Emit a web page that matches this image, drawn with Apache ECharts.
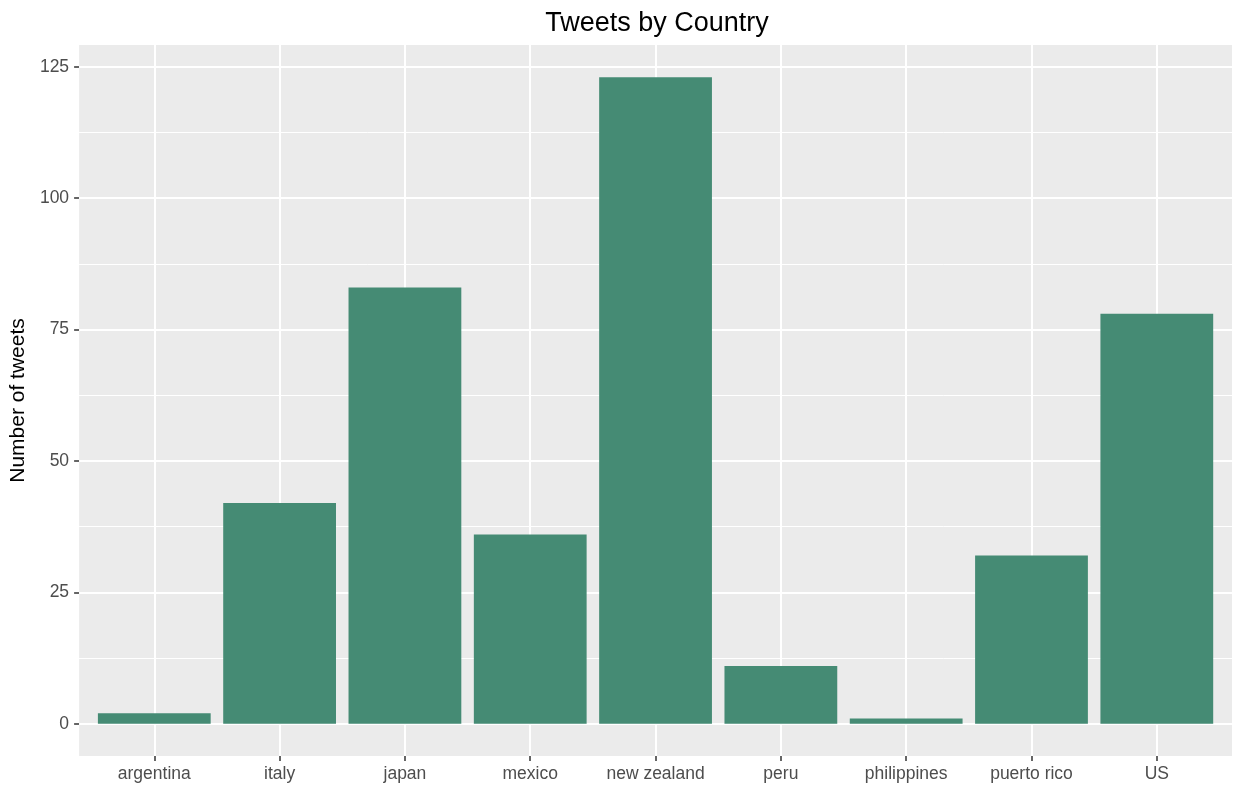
<!DOCTYPE html>
<html>
<head>
<meta charset="utf-8">
<script src="https://cdn.jsdelivr.net/npm/echarts@6/dist/echarts.min.js"></script>
<style>
html,body{margin:0;padding:0;background:#fff;}
#chart{width:1233px;height:787px;}
</style>
</head>
<body>
<div id="chart"></div>
<script>
const categories = ['argentina','italy','japan','mexico','new zealand','peru','philippines','puerto rico','US'];
const tweets = [2, 42, 83, 36, 123, 11, 1, 32, 78];
const yTicks = [0, 25, 50, 75, 100, 125];
const yMinorTicks = [12.5, 37.5, 62.5, 87.5, 112.5];
const titleText = 'Tweets by Country';
const yTitle = 'Number of tweets';

const FONT = "'Liberation Sans', Arial, sans-serif";
const idx = categories.map((c, i) => i);
const yMaxData = Math.max(...tweets);
const yPad = yMaxData * 0.05;

const chart = echarts.init(document.getElementById('chart'), null, {renderer: 'canvas'});

const gridLines = []
  .concat(yMinorTicks.map(v => ({yAxis: v, lineStyle: {width: 1}})))
  .concat(yTicks.map(v => ({yAxis: v, lineStyle: {width: 2}})))
  .concat(idx.map(i => ({xAxis: i, lineStyle: {width: 2}})));

const hiddenLine = {show: true, onZero: false, lineStyle: {color: 'rgba(0,0,0,0)', width: 0}};

chart.setOption({
  animation: false,
  backgroundColor: '#ffffff',
  textStyle: {fontFamily: FONT},
  graphic: [{
    type: 'text',
    x: 657,
    y: 24,
    style: {
      text: titleText,
      font: "27px " + FONT,
      fill: '#000000',
      textAlign: 'center',
      textVerticalAlign: 'middle'
    }
  }],
  grid: {
    left: 76, right: 1, top: 45, bottom: 31,
    show: true, backgroundColor: '#EBEBEB', borderWidth: 0,
    containLabel: false
  },
  xAxis: {
    type: 'value',
    min: -0.6,
    max: categories.length - 1 + 0.6,
    axisLine: hiddenLine,
    splitLine: {show: false},
    axisTick: {show: true, customValues: idx, length: 5, lineStyle: {color: '#333333', width: 1.5}},
    axisLabel: {
      customValues: idx,
      formatter: v => categories[Math.round(v)],
      color: '#4D4D4D', fontSize: 17.5, fontFamily: FONT, margin: 9
    }
  },
  yAxis: {
    type: 'value',
    min: -yPad,
    max: yMaxData + yPad,
    name: yTitle,
    nameLocation: 'middle',
    nameGap: 42,
    nameTextStyle: {color: '#000000', fontSize: 21, fontFamily: FONT},
    axisLine: hiddenLine,
    splitLine: {show: false},
    axisTick: {show: true, customValues: yTicks, length: 5, lineStyle: {color: '#333333', width: 1.5}},
    axisLabel: {customValues: yTicks, color: '#4D4D4D', fontSize: 17.5, fontFamily: FONT, margin: 10}
  },
  series: [{
    type: 'bar',
    data: tweets.map((v, i) => [i, v]),
    barWidth: '90%',
    itemStyle: {color: '#458B74'},
    z: 2,
    silent: true,
    markLine: {
      silent: true,
      z: 1,
      symbol: ['none', 'none'],
      label: {show: false},
      lineStyle: {color: '#ffffff', type: 'solid'},
      emphasis: {disabled: true},
      data: gridLines
    }
  }]
});
</script>
</body>
</html>
